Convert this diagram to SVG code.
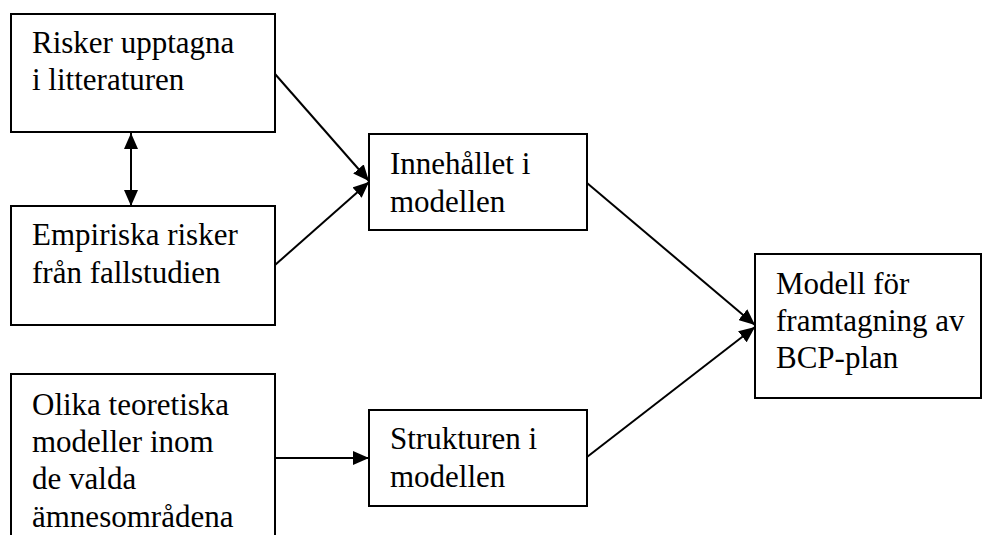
<svg xmlns="http://www.w3.org/2000/svg" width="982" height="535" viewBox="0 0 982 535">
  <style>
    .box { fill: #fff; stroke: #000; stroke-width: 2; }
    .lbl { font-family: "Liberation Serif", "Times New Roman", serif; font-size: 31px; fill: #000; }
    .edge { stroke: #000; stroke-width: 2; fill: none; }
  </style>
  <defs>
    <marker id="head" markerUnits="userSpaceOnUse" markerWidth="16" markerHeight="14" refX="16" refY="7" orient="auto-start-reverse">
      <path d="M0,0 L16,7 L0,14 Z" fill="#000"/>
    </marker>
  </defs>
  <rect width="982" height="535" fill="#fff"/>

  <g id="connectors">
    <line class="edge" x1="131" y1="133" x2="131" y2="206" marker-start="url(#head)" marker-end="url(#head)"/>
    <line class="edge" x1="275" y1="74" x2="369" y2="181" marker-end="url(#head)"/>
    <line class="edge" x1="275" y1="265" x2="369" y2="182" marker-end="url(#head)"/>
    <line class="edge" x1="587" y1="183" x2="755" y2="325" marker-end="url(#head)"/>
    <line class="edge" x1="587" y1="457" x2="755" y2="327" marker-end="url(#head)"/>
    <line class="edge" x1="275" y1="458" x2="369" y2="458" marker-end="url(#head)"/>
  </g>

  <g id="risker-litteratur">
    <rect class="box" x="11" y="14" width="264" height="118"/>
    <text class="lbl" x="32" y="53">Risker upptagna</text>
    <text class="lbl" x="32" y="90">i litteraturen</text>
  </g>

  <g id="empiriska-risker">
    <rect class="box" x="11" y="206" width="264" height="119"/>
    <text class="lbl" x="32" y="245">Empiriska risker</text>
    <text class="lbl" x="32" y="283">från fallstudien</text>
  </g>

  <g id="olika-modeller">
    <rect class="box" x="11" y="374" width="264" height="170"/>
    <text class="lbl" x="32" y="415">Olika teoretiska</text>
    <text class="lbl" x="32" y="452">modeller inom</text>
    <text class="lbl" x="32" y="489">de valda</text>
    <text class="lbl" x="32" y="527">ämnesområdena</text>
  </g>

  <g id="innehallet">
    <rect class="box" x="369" y="134" width="218" height="96"/>
    <text class="lbl" x="390" y="174">Innehållet i</text>
    <text class="lbl" x="390" y="212">modellen</text>
  </g>

  <g id="strukturen">
    <rect class="box" x="369" y="410" width="218" height="96"/>
    <text class="lbl" x="390" y="449">Strukturen i</text>
    <text class="lbl" x="390" y="487">modellen</text>
  </g>

  <g id="modell-bcp">
    <rect class="box" x="755" y="254" width="226" height="144"/>
    <text class="lbl" x="776" y="294">Modell för</text>
    <text class="lbl" x="776" y="331">framtagning av</text>
    <text class="lbl" x="776" y="368">BCP-plan</text>
  </g>
</svg>
